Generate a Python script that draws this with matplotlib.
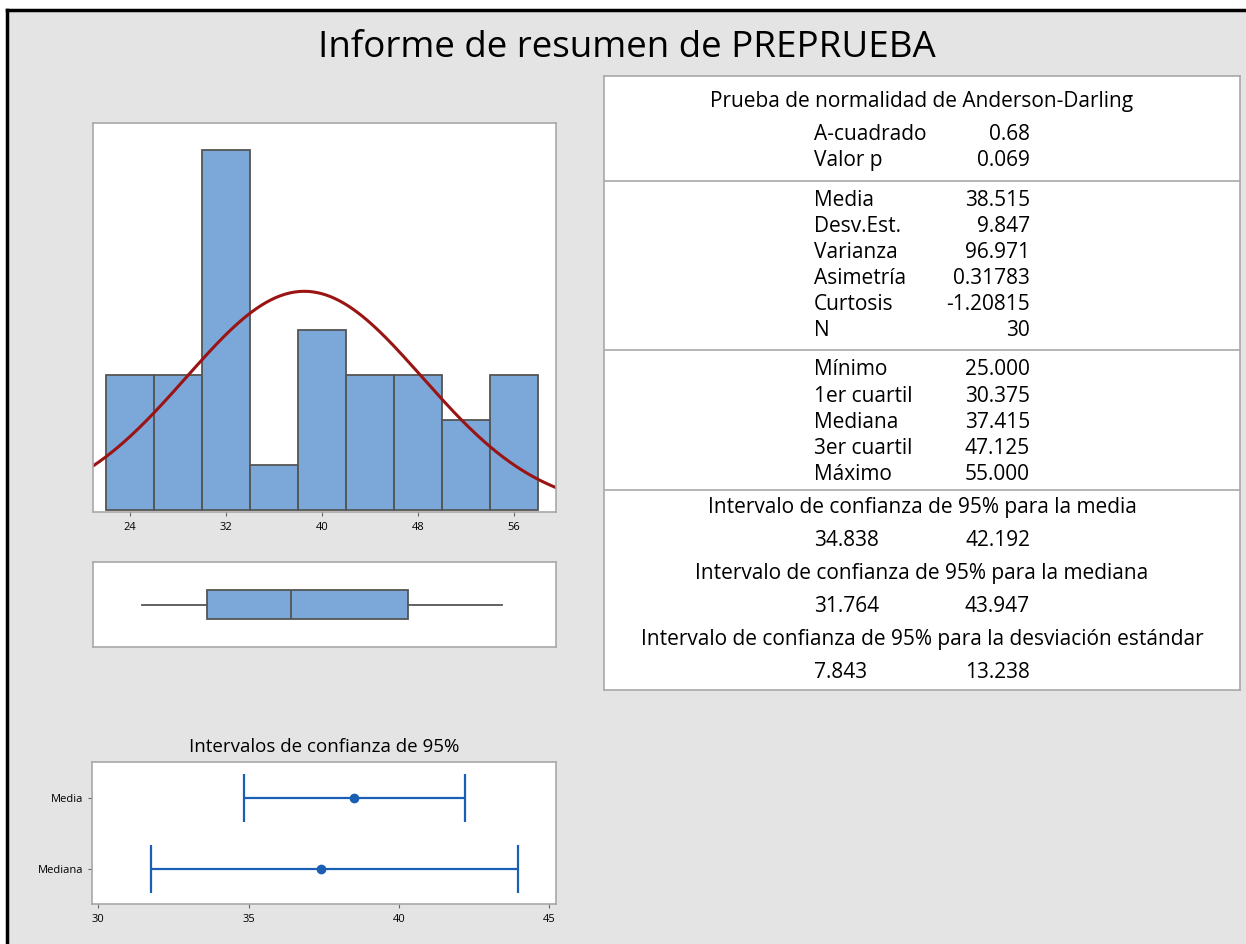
import numpy as np
import matplotlib
matplotlib.use('Agg')
import matplotlib.pyplot as plt
from matplotlib.patches import Rectangle
from matplotlib.lines import Line2D

plt.rcParams['font.family'] = ['Open Sans', 'DejaVu Sans']

# Datos del informe
bin_centers = [24, 28, 32, 36, 40, 44, 48, 52, 56]
counts = [3, 3, 8, 1, 4, 3, 3, 2, 3]
bin_width = 4
hist_ticks = [24, 32, 40, 48, 56]

media = 38.515
desv = 9.847
n = 30
minimo, q1, mediana, q3, maximo = 25.0, 30.375, 37.415, 47.125, 55.0

ci_labels = ['Media', 'Mediana']
ci_centers = [38.515, 37.415]
ci_low = [34.838, 31.764]
ci_high = [42.192, 43.947]
ci_ticks = [30, 35, 40, 45]

ad_rows = [('A-cuadrado', '0.68'), ('Valor p', '0.069')]
desc_rows = [('Media', '38.515'), ('Desv.Est.', '9.847'), ('Varianza', '96.971'),
             ('Asimetría', '0.31783'), ('Curtosis', '-1.20815'), ('N', '30')]
quant_rows = [('Mínimo', '25.000'), ('1er cuartil', '30.375'), ('Mediana', '37.415'),
              ('3er cuartil', '47.125'), ('Máximo', '55.000')]
ic_rows = [('Intervalo de confianza de 95% para la media', '34.838', '42.192'),
           ('Intervalo de confianza de 95% para la mediana', '31.764', '43.947'),
           ('Intervalo de confianza de 95% para la desviación estándar', '7.843', '13.238')]

# Colores
fondo = '#e4e4e4'
azul = '#7ba7d9'
borde = '#555555'
rojo = '#9b1414'
azul_ic = '#1a5fb4'
marco = '#a8a8a8'

W, H = 1246, 945
fig = plt.figure(figsize=(W / 100, H / 100), dpi=100, facecolor='white')

def rect(x0, y0, x1, y1):
    # convierte pixeles (desde arriba) a coordenadas de figura
    return [x0 / W, 1 - y1 / H, (x1 - x0) / W, (y1 - y0) / H]

# fondo gris con marco negro
fig.patches.append(Rectangle((7 / W, 0), 1, 1 - 11 / H, transform=fig.transFigure,
                             facecolor=fondo, edgecolor='none', zorder=-10))
fig.add_artist(Line2D([7 / W, 1], [1 - 11 / H, 1 - 11 / H], color='black', lw=2.5))
fig.add_artist(Line2D([7 / W, 7 / W], [0, 1 - 11 / H], color='black', lw=2.5))

fig.text(627 / W, 1 - 48 / H, 'Informe de resumen de PREPRUEBA', ha='center', va='center',
         fontsize=26.5)

def estilo(ax):
    for s in ax.spines.values():
        s.set_color(marco)
        s.set_linewidth(1.2)
    ax.set_facecolor('white')
    ax.tick_params(labelsize=8, length=3, color='#666666')

# Histograma
ax1 = fig.add_axes(rect(93, 124, 556, 513))
estilo(ax1)
ax1.bar(bin_centers, counts, width=bin_width, color=azul, edgecolor=borde, linewidth=1.3)
xs = np.linspace(20.9, 59.5, 300)
ys = n * bin_width * np.exp(-0.5 * ((xs - media) / desv) ** 2) / (desv * np.sqrt(2 * np.pi))
ax1.plot(xs, ys, color=rojo, lw=2.2)
ax1.set_xlim(20.9, 59.5)
ax1.set_ylim(-0.04, 8.6)
ax1.set_xticks(hist_ticks)
ax1.set_yticks([])

# Diagrama de caja
ax2 = fig.add_axes(rect(93, 563, 556, 648))
estilo(ax2)
stats = [dict(whislo=minimo, q1=q1, med=mediana, q3=q3, whishi=maximo, fliers=[])]
ax2.bxp(stats, positions=[0.5], widths=0.33, vert=False, showcaps=False, patch_artist=True,
        boxprops=dict(facecolor=azul, edgecolor=borde, linewidth=1.3),
        medianprops=dict(color=borde, linewidth=1.3),
        whiskerprops=dict(color=borde, linewidth=1.3))
ax2.set_xlim(20.9, 59.5)
ax2.set_ylim(0, 1)
ax2.set_xticks([])
ax2.set_yticks([])

# Intervalos de confianza
ax3 = fig.add_axes(rect(92, 763, 556, 905))
estilo(ax3)
ypos = [1, 0]
for yv, c, lo, hi in zip(ypos, ci_centers, ci_low, ci_high):
    ax3.errorbar(c, yv, xerr=[[c - lo], [hi - c]], fmt='o', color=azul_ic, ms=6,
                 lw=1.6, capsize=17, capthick=1.6)
ax3.set_xlim(29.79, 45.22)
ax3.set_ylim(-0.5, 1.5)
ax3.set_yticks(ypos)
ax3.set_yticklabels(ci_labels)
ax3.set_xticks(ci_ticks)
ax3.set_title('Intervalos de confianza de 95%', fontsize=13.5, pad=8)

# Tabla de resumen
axt = fig.add_axes(rect(604, 77, 1240, 691))
estilo(axt)
axt.set_xlim(604, 1240)
axt.set_ylim(691, 77)
axt.set_xticks([])
axt.set_yticks([])
fs = 15
xl, xr, xc = 814, 1030, 922

axt.text(xc, 102, 'Prueba de normalidad de Anderson-Darling', ha='center', va='center', fontsize=fs)
for i, (lab, val) in enumerate(ad_rows):
    y = 134 + 26.5 * i
    axt.text(xl, y, lab, ha='left', va='center', fontsize=fs)
    axt.text(xr, y, val, ha='right', va='center', fontsize=fs)
for i, (lab, val) in enumerate(desc_rows):
    y = 200 + 26.2 * i
    axt.text(xl, y, lab, ha='left', va='center', fontsize=fs)
    axt.text(xr, y, val, ha='right', va='center', fontsize=fs)
for i, (lab, val) in enumerate(quant_rows):
    y = 370 + 26.2 * i
    axt.text(xl, y, lab, ha='left', va='center', fontsize=fs)
    axt.text(xr, y, val, ha='right', va='center', fontsize=fs)
for i, (lab, lo, hi) in enumerate(ic_rows):
    y = 508 + 66 * i
    axt.text(xc, y, lab, ha='center', va='center', fontsize=fs)
    axt.text(xl, y + 33, lo, ha='left', va='center', fontsize=fs)
    axt.text(xr, y + 33, hi, ha='right', va='center', fontsize=fs)
for yl in [182, 351, 491]:
    axt.axhline(yl, color=marco, lw=1.2)

fig.savefig('out.png', dpi=100, facecolor=fig.get_facecolor())
